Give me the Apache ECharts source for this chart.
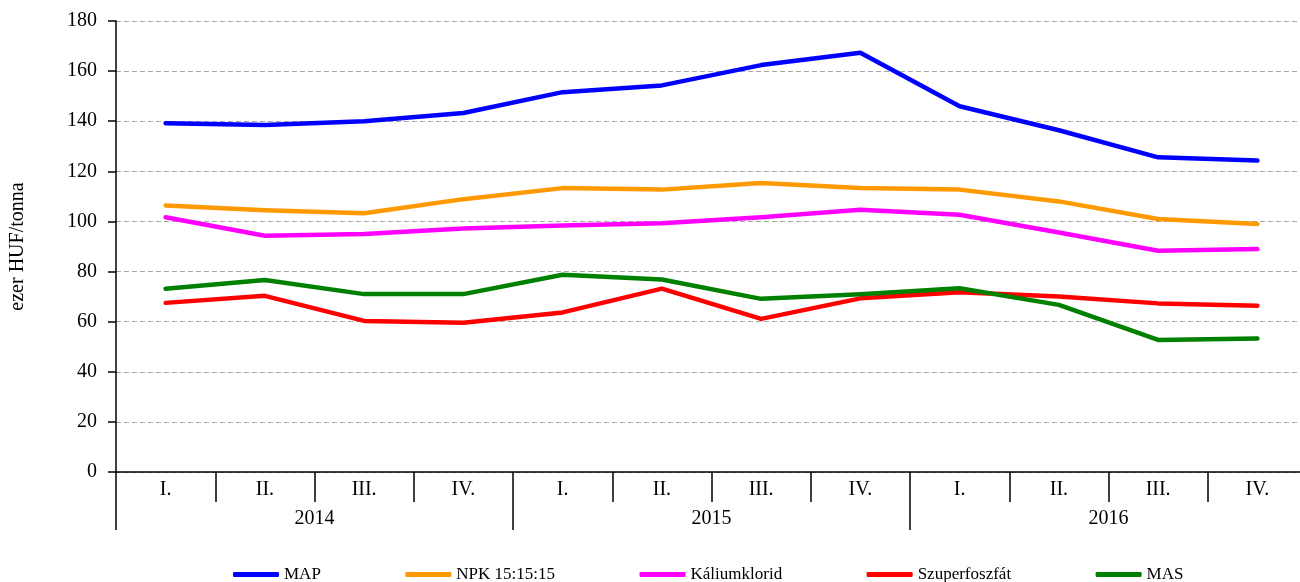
<!DOCTYPE html>
<html>
<head>
<meta charset="utf-8">
<script src="https://cdn.jsdelivr.net/npm/echarts@6/dist/echarts.min.js"></script>
<style>
  html, body { margin: 0; padding: 0; background: #fff; }
  #chart { width: 1300px; height: 582px; }
</style>
</head>
<body>
<div id="chart"></div>
<script>
// quarters and years on the two-level x axis
const quarters = ["I.", "II.", "III.", "IV.", "I.", "II.", "III.", "IV.", "I.", "II.", "III.", "IV."];
const years = ["2014", "2015", "2016"];

// ezer HUF/tonna
const mapValues = [139.2, 138.5, 140.0, 143.3, 151.6, 154.3, 162.4, 167.3, 146.0, 136.4, 125.6, 124.3];
const npkValues = [106.4, 104.5, 103.3, 108.9, 113.3, 112.7, 115.3, 113.3, 112.7, 108.0, 101.0, 99.0];
const kaliumValues = [101.7, 94.3, 95.0, 97.2, 98.4, 99.3, 101.7, 104.7, 102.7, 95.6, 88.3, 89.0];
const szuperValues = [67.5, 70.3, 60.3, 59.6, 63.7, 73.2, 61.1, 69.3, 71.7, 70.0, 67.3, 66.4];
const masValues = [73.1, 76.6, 71.0, 71.0, 78.7, 76.8, 69.1, 70.9, 73.3, 66.7, 52.7, 53.3];

const yTicks = { min: 0, max: 180, interval: 20 };

const font = "'Liberation Serif', 'Times New Roman', serif";

const seriesList = [
  { name: "MAP", data: mapValues, color: "#0000ff" },
  { name: "NPK 15:15:15", data: npkValues, color: "#ff9900" },
  { name: "Káliumklorid", data: kaliumValues, color: "#ff00ff" },
  { name: "Szuperfoszfát", data: szuperValues, color: "#ff0000" },
  { name: "MAS", data: masValues, color: "#008000" }
];

const chart = echarts.init(document.getElementById("chart"));

const option = {
  animation: false,
  textStyle: { fontFamily: font, color: "#000" },
  grid: { left: 116, top: 21, width: 1191, bottom: 110, containLabel: false, outerBoundsMode: "none" },
  legend: {
    left: 233,
    top: 566,
    padding: 0,
    itemWidth: 46,
    itemHeight: 5,
    itemGap: 84.5,
    icon: "roundRect",
    textStyle: { fontFamily: font, fontSize: 17, color: "#000" },
    data: seriesList.map(s => s.name)
  },
  xAxis: [
    {
      type: "category",
      data: quarters,
      boundaryGap: true,
      axisLine: { show: true, lineStyle: { color: "#000", width: 1.5 } },
      axisTick: { show: true, interval: 0, length: 30, lineStyle: { color: "#000", width: 1.5 } },
      axisLabel: { interval: 0, margin: 8, fontSize: 20, color: "#000", fontFamily: font },
      splitLine: { show: false }
    },
    {
      type: "category",
      data: years,
      position: "bottom",
      boundaryGap: true,
      axisLine: { show: false },
      axisTick: { show: true, interval: 0, length: 58, lineStyle: { color: "#000", width: 1.5 } },
      axisLabel: { interval: 0, margin: 37, fontSize: 20, color: "#000", fontFamily: font },
      splitLine: { show: false }
    }
  ],
  yAxis: {
    type: "value",
    min: yTicks.min,
    max: yTicks.max,
    interval: yTicks.interval,
    name: "ezer HUF/tonna",
    nameLocation: "middle",
    nameGap: 88,
    nameRotate: 90,
    nameTextStyle: { fontFamily: font, fontSize: 20, color: "#000" },
    axisLine: { show: true, lineStyle: { color: "#000", width: 1.5 } },
    axisTick: { show: true, length: 8, lineStyle: { color: "#000", width: 1.5 } },
    axisLabel: { margin: 19, fontSize: 20, color: "#000", fontFamily: font },
    splitLine: { show: true, lineStyle: { color: "#a6a6a6", type: [5, 3], width: 1.2 } }
  },
  series: seriesList.map(s => ({
    name: s.name,
    type: "line",
    xAxisIndex: 0,
    data: s.data,
    showSymbol: false,
    symbol: "none",
    lineStyle: { color: s.color, width: 4.5, cap: "round", join: "round" },
    itemStyle: { color: s.color }
  }))
};

chart.setOption(option);
</script>
</body>
</html>
